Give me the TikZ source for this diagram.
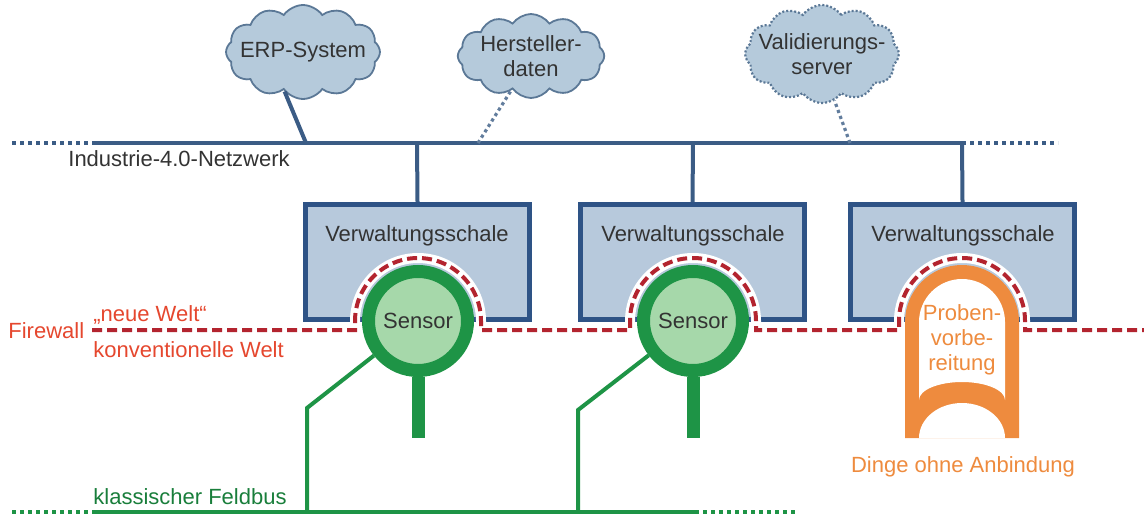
\documentclass[tikz,border=0pt]{standalone}
\usepackage{fontspec}
\setmainfont{Liberation Sans}
\usetikzlibrary{shapes.symbols}
\definecolor{netblue}{HTML}{3B5C85}
\definecolor{boxblue}{HTML}{2E5386}
\definecolor{boxfill}{HTML}{B7C9DC}
\definecolor{cloudfill}{HTML}{B5CADB}
\definecolor{cloudline}{HTML}{5B7896}
\definecolor{busgreen}{HTML}{1E9446}
\definecolor{sensfill}{HTML}{A6D8AA}
\definecolor{fwred}{HTML}{B3242F}
\definecolor{labred}{HTML}{E5472E}
\definecolor{orng}{HTML}{EE8B3E}
\definecolor{txt}{HTML}{333333}
\tikzset{
  lbl/.style={font=\fontsize{11pt}{12.5pt}\selectfont, text=txt, inner sep=0pt, align=center},
  redlbl/.style={lbl, text=labred},
  grnlbl/.style={lbl, text=busgreen!85!black},
  orglbl/.style={lbl, text=orng},
  cloudbox/.style={lbl, cloud, cloud puffs=12, cloud puff arc=110, cloud ignores aspect,
    draw=cloudline, line width=0.9pt, fill=cloudfill, minimum width=60pt, minimum height=44pt},
  vwbox/.style={draw=boxblue, line width=2.5pt, fill=boxfill, minimum width=112pt,
    minimum height=57.5pt},
  sensor/.style={lbl, circle, draw=busgreen, line width=6.5pt, fill=sensfill,
    minimum size=49.5pt},
  netline/.style={draw=netblue, line width=2pt},
  netdots/.style={netline, dash pattern=on 2pt off 2pt},
  linkdots/.style={draw=netblue!80, line width=1.6pt, dash pattern=on 1.6pt off 1.6pt},
  busline/.style={draw=busgreen, line width=2pt},
  busdots/.style={busline, dash pattern=on 2pt off 2pt},
  stem/.style={draw=busgreen, line width=6.5pt},
  fwline/.style={draw=fwred, line width=2pt, dash pattern=on 5pt off 2.5pt},
  fwhalo/.style={draw=white, line width=5pt}
}
\begin{document}
\begin{tikzpicture}[x=0.5pt, y=0.5pt]
      \useasboundingbox (0,0) rectangle (1144,515);
      \coordinate (n0) at (92,372);
      \coordinate (ne) at (306,372);
      \coordinate (nh) at (478,372);
      \coordinate (n1) at (417,372);
      \coordinate (n2) at (693,372);
      \coordinate (nv) at (850,372);
      \coordinate (n3) at (962,372);
      \coordinate (nl) at (12,372);
      \coordinate (nr) at (1058,372);
      \coordinate (f0) at (92,3);
      \coordinate (f1) at (307,3);
      \coordinate (f2) at (578,3);
      \coordinate (f3) at (695,3);
      \coordinate (fl) at (12,3);
      \coordinate (fr) at (797,3);
      \coordinate (b1) at (307,107);
      \coordinate (b2) at (578,105);
      \node[cloudbox, inner xsep=-4pt, minimum height=47pt] (erp) at (303,463) {ERP-System};
      \node[cloudbox, minimum height=42pt] (hd) at (531,459) {Hersteller-\\daten};
      \node[cloudbox, inner xsep=-5pt, minimum height=49pt, dash pattern=on 1pt off 1pt,
        line width=1.1pt] (val) at (822,461) {Validierungs-\\server};
      \draw[netdots] (nl) -- (n0);
      \draw[netline] (n0) -- (n3);
      \draw[netdots] (n3) -- (nr);
      \draw[netline] (ne) -- (erp.245);
      \draw[linkdots] (nh) -- (hd.240);
      \draw[linkdots] (nv) -- (val.285);
      \node[lbl, anchor=west] (inet) at (68,356) {Industrie-4.0-Netzwerk};
      \node[vwbox] (vs1) at (417.5,253) {};
      \node[vwbox] (vs2) at (692.5,253) {};
      \node[vwbox] (vs3) at (962.5,253) {};
      \draw[netline] (n1) -- (vs1.north);
      \draw[netline] (n2) -- (vs2.north);
      \draw[netline] (n3) -- (vs3.north);
      \node[lbl] (t1) at (417,279) {Verwaltungsschale};
      \node[lbl] (t2) at (693,279) {Verwaltungsschale};
      \node[lbl] (t3) at (963,279) {Verwaltungsschale};
      \draw[fwhalo] (92,185) -- (355,185) -- (355,194) arc[start angle=180, end angle=0, radius=63]
        -- (481,185) -- (630,185) -- (630,194) arc[start angle=180, end angle=0, radius=63]
        -- (756,185) -- (899,185) -- (899,194) arc[start angle=180, end angle=0, radius=63]
        -- (1025,185) -- (1144,185);
      \draw[fwline] (92,185) -- (355,185) -- (355,194) arc[start angle=180, end angle=0, radius=63]
        -- (481,185) -- (630,185) -- (630,194) arc[start angle=180, end angle=0, radius=63]
        -- (756,185) -- (899,185) -- (899,194) arc[start angle=180, end angle=0, radius=63]
        -- (1025,185) -- (1144,185);
      \node[redlbl, anchor=west] (fw) at (8,184) {Firewall};
      \node[redlbl, anchor=west] (nw) at (93,200) {„neue Welt“};
      \node[redlbl, anchor=west] (kw) at (93,165) {konventionelle Welt};
      \draw[busdots] (fl) -- (f0);
      \draw[busline] (f0) -- (f3);
      \draw[busdots] (f3) -- (fr);
      \node[grnlbl, anchor=west] (fb) at (93,18) {klassischer Feldbus};
      \node[sensor] (s1) at (418,194) {Sensor};
      \node[sensor] (s2) at (693,194) {Sensor};
      \coordinate (e1) at (418,77);
      \coordinate (e2) at (693,77);
      \draw[stem] (s1.south) -- (e1);
      \draw[stem] (s2.south) -- (e2);
      \draw[busline] (s1) -- (b1) -- (f1);
      \draw[busline] (s2) -- (b2) -- (f2);
      \fill[orng] (905,77) -- (905,193) arc[start angle=180, end angle=0, radius=57] -- (1019,77) -- cycle;
      \fill[white] (919,115) -- (919,193) arc[start angle=180, end angle=0, radius=43]
        -- (1005,115) arc[start angle=0, end angle=180, x radius=43, y radius=18] -- cycle;
      \fill[white] (919,77) arc[start angle=180, end angle=0, x radius=43, y radius=35] -- cycle;
      \node[orglbl] (pv) at (962,175) {Proben-\\vorbe-\\reitung};
      \node[orglbl] (dg) at (963,48) {Dinge ohne Anbindung};
    \end{tikzpicture}
\end{document}
